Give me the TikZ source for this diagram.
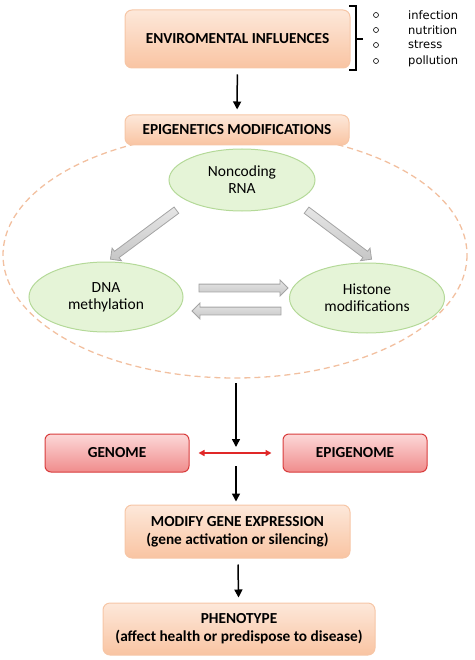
\documentclass[tikz,border=0pt]{standalone}
\usepackage{fontspec}
\setmainfont{Carlito}
\newfontfamily\listfont{DejaVu Sans}
\usetikzlibrary{arrows.meta,shapes.geometric,shapes.arrows,calc}

\definecolor{peachtop}{HTML}{FDE8DA}
\definecolor{peachbot}{HTML}{F9C4A2}
\definecolor{peachline}{HTML}{F6C6A6}
\definecolor{redtop}{HTML}{FCD8D8}
\definecolor{redbot}{HTML}{F08C8C}
\definecolor{redline}{HTML}{D83C3C}
\definecolor{greenfill}{HTML}{E5F4D7}
\definecolor{greenline}{HTML}{B4D998}
\definecolor{greytop}{HTML}{E6E6E6}
\definecolor{greybot}{HTML}{C6C6C6}
\definecolor{greyline}{HTML}{A4A4A4}
\definecolor{dashline}{HTML}{F2C0A0}
\definecolor{linkred}{HTML}{E02828}

\tikzset{
  peachbox/.style={rectangle, rounded corners=7pt, draw=peachline, line width=1pt,
    top color=peachtop, bottom color=peachbot, align=center, inner sep=0pt,
    font=\bfseries\fontsize{15.3}{18}\selectfont},
  redbox/.style={rectangle, rounded corners=6pt, draw=redline, line width=1pt,
    top color=redtop, bottom color=redbot, align=center, inner sep=0pt,
    minimum width=144pt, minimum height=38pt,
    font=\bfseries\fontsize{15.3}{18}\selectfont},
  greenoval/.style={ellipse, draw=greenline, line width=1pt, fill=greenfill,
    align=center, inner sep=0pt, font=\fontsize{15.5}{17}\selectfont},
  flowarrow/.style={line width=1.5pt, -{Triangle[length=8pt,width=8pt]}},
  fatarrow/.style={single arrow, draw=greyline, line width=0.8pt, top color=greytop,
    bottom color=greybot, inner sep=3.5pt, minimum width=0pt,
    single arrow head extend=4pt, sloped, allow upside down},
  bulletdot/.style={circle, draw, line width=0.6pt, inner sep=0pt, minimum size=5pt},
  bullettext/.style={anchor=west, inner sep=0pt, font=\listfont\fontsize{11.5}{14}\selectfont},
}

\newcommand\blockarrow[2]{%
  \path let \p1=($(#2)-(#1)$), \n1={veclen(\x1,\y1)} in
    (#1) -- node[fatarrow, minimum height=\n1] {} (#2);}

\begin{document}
\begin{tikzpicture}[x=1pt,y=-1pt]
\useasboundingbox (0,0) rectangle (474,660);

% outer dashed oval
\draw[dashline, line width=1.3pt, dash pattern=on 6pt off 4pt]
  (235,255) ellipse [x radius=232, y radius=123];

% boxes
\node[peachbox, minimum width=225pt, minimum height=58pt] (env) at (237.5,39) {ENVIROMENTAL INFLUENCES};
\node[peachbox, minimum width=224pt, minimum height=30pt] (epi) at (237,130) {EPIGENETICS MODIFICATIONS};
\node[greenoval, minimum width=146pt, minimum height=62pt] (ncrna) at (242,180) {Noncoding\\RNA};
\node[greenoval, minimum width=154pt, minimum height=70pt] (dnam) at (106,297) {DNA\\methylation};
\node[greenoval, minimum width=155pt, minimum height=70pt] (hist) at (367,298) {Histone\\modifications};
\node[redbox] (genome) at (117,453) {GENOME};
\node[redbox] (epigenome) at (355,453) {EPIGENOME};
\node[peachbox, minimum width=225pt, minimum height=53pt] (mge) at (237.5,531.5) {MODIFY GENE EXPRESSION\\(gene activation or silencing)};
\node[peachbox, minimum width=272pt, minimum height=52pt] (pheno) at (239,629) {PHENOTYPE\\(affect health or predispose to disease)};

% influences list
\draw[line width=1.6pt] (349,6) -- (356,6) -- (356,70) -- (349,70);
\draw[line width=1.6pt] (356,39) -- (363,39);
\node[bulletdot] (dot1) at (376,15) {};
\node[bulletdot] (dot2) at (376,30) {};
\node[bulletdot] (dot3) at (376,45) {};
\node[bulletdot] (dot4) at (376,61) {};
\node[bullettext] (inf1) at (408,15) {infection};
\node[bullettext] (inf2) at (408,30) {nutrition};
\node[bullettext] (inf3) at (408,45) {stress};
\node[bullettext] (inf4) at (408,61) {pollution};

% block arrows
\coordinate (nc-a) at (178,209);
\coordinate (nc-b) at (112,258);
\coordinate (nc-c) at (305,209);
\coordinate (nc-d) at (370,258);
\coordinate (dh-a) at (197,288);
\coordinate (dh-b) at (286,288);
\coordinate (hd-a) at (283,311);
\coordinate (hd-b) at (194,311);
\blockarrow{nc-a}{nc-b}
\blockarrow{nc-c}{nc-d}
\blockarrow{dh-a}{dh-b}
\blockarrow{hd-a}{hd-b}

% flow arrows
\coordinate (ovalbot) at (236,383);
\coordinate (cross) at (236,453);
\draw[flowarrow, shorten <=6pt, shorten >=5pt] (env) -- (epi);
\draw[flowarrow] (ovalbot) -- ([yshift=6pt]cross);
\draw[flowarrow, shorten >=3pt] ([yshift=-13pt]cross) -- (mge.north -| cross);
\draw[flowarrow, shorten <=6pt, shorten >=5pt] (mge) -- (pheno);
\draw[linkred, line width=1.5pt, {Triangle[length=6pt,width=6pt]}-{Triangle[length=6pt,width=6pt]},
  shorten <=9pt, shorten >=11pt] (genome) -- (epigenome);
\end{tikzpicture}
\end{document}
